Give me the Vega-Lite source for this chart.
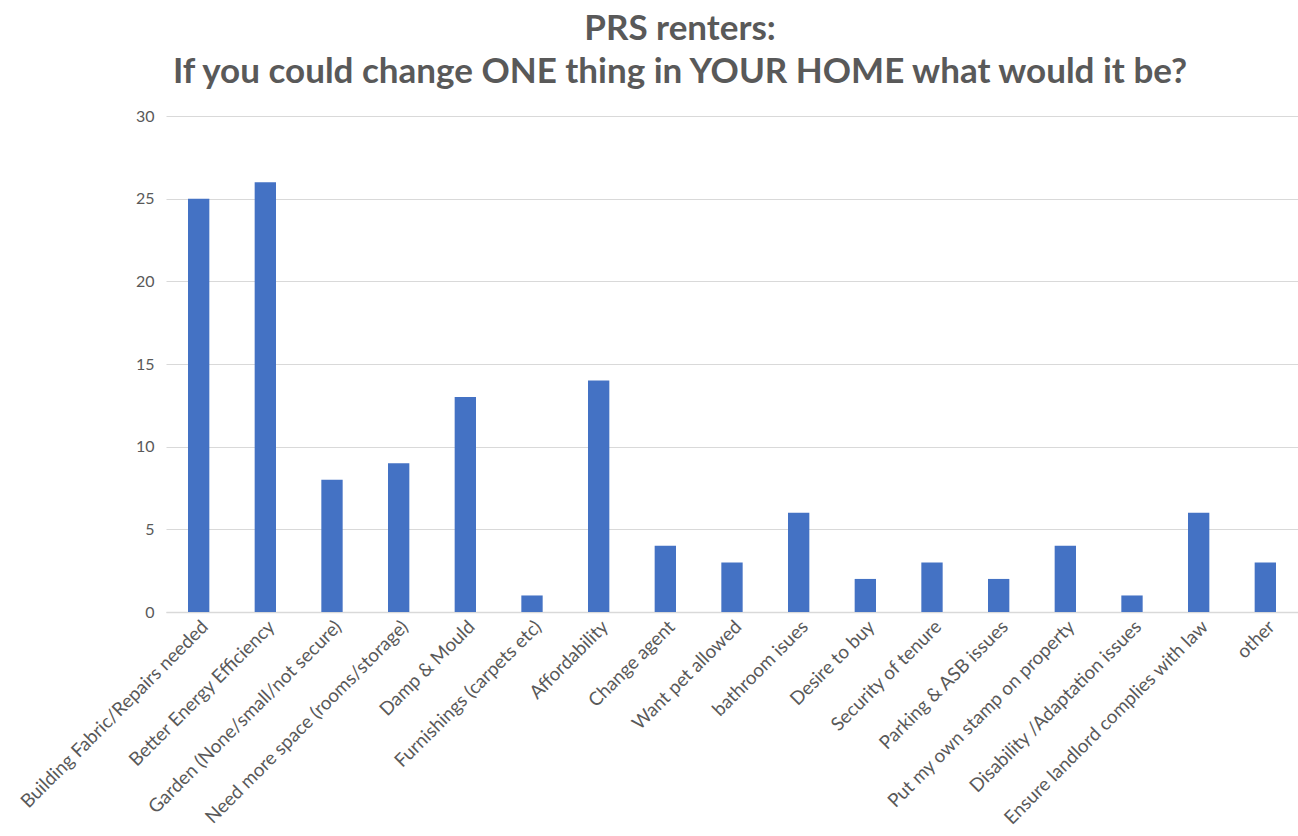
{
  "$schema": "https://vega.github.io/schema/vega-lite/v6.json",
  "autosize": "none",
  "width": 1132,
  "height": 496,
  "padding": {"left": 166, "top": 116, "right": 0, "bottom": 224},
  "background": "white",
  "title": {
    "text": ["PRS renters:", "If you could change ONE thing in YOUR HOME what would it be?"],
    "font": "Lato",
    "fontSize": 35,
    "fontWeight": "bold",
    "color": "#595959",
    "anchor": "middle",
    "dx": -52,
    "offset": 18,
    "lineHeight": 43
  },
  "data": {
    "values": [
      {"category": "Building Fabric/Repairs needed", "count": 25},
      {"category": "Better Energy  Efficiency", "count": 26},
      {"category": "Garden (None/small/not secure)", "count": 8},
      {"category": "Need more space (rooms/storage)", "count": 9},
      {"category": "Damp & Mould", "count": 13},
      {"category": "Furnishings (carpets etc)", "count": 1},
      {"category": "Affordability", "count": 14},
      {"category": "Change agent", "count": 4},
      {"category": "Want pet allowed", "count": 3},
      {"category": "bathroom isues", "count": 6},
      {"category": "Desire to buy", "count": 2},
      {"category": "Security of tenure", "count": 3},
      {"category": "Parking & ASB issues", "count": 2},
      {"category": "Put my own stamp on property", "count": 4},
      {"category": "Disability /Adaptation issues", "count": 1},
      {"category": "Ensure landlord complies with law", "count": 6},
      {"category": "other", "count": 3}
    ]
  },
  "config": {
    "view": {"stroke": null},
    "font": "Lato"
  },
  "mark": {"type": "bar", "color": "#4472C4"},
  "encoding": {
    "x": {
      "field": "category",
      "type": "nominal",
      "sort": null,
      "title": null,
      "scale": {"paddingInner": 0.68, "paddingOuter": 0.33},
      "axis": {
        "labelAngle": -45,
        "labelFont": "Lato",
        "labelFontSize": 18.8,
        "labelColor": "#595959",
        "labelPadding": 5,
        "labelLimit": 400,
        "ticks": false,
        "domainColor": "#d9d9d9",
        "domainWidth": 1.5,
        "grid": false
      }
    },
    "y": {
      "field": "count",
      "type": "quantitative",
      "title": null,
      "scale": {"domain": [0, 30], "nice": false},
      "axis": {
        "values": [0, 5, 10, 15, 20, 25, 30],
        "labelFont": "Lato",
        "labelFontSize": 16,
        "labelColor": "#595959",
        "labelPadding": 12,
        "ticks": false,
        "domain": false,
        "gridColor": "#d9d9d9",
        "gridWidth": 1.2
      }
    }
  }
}
